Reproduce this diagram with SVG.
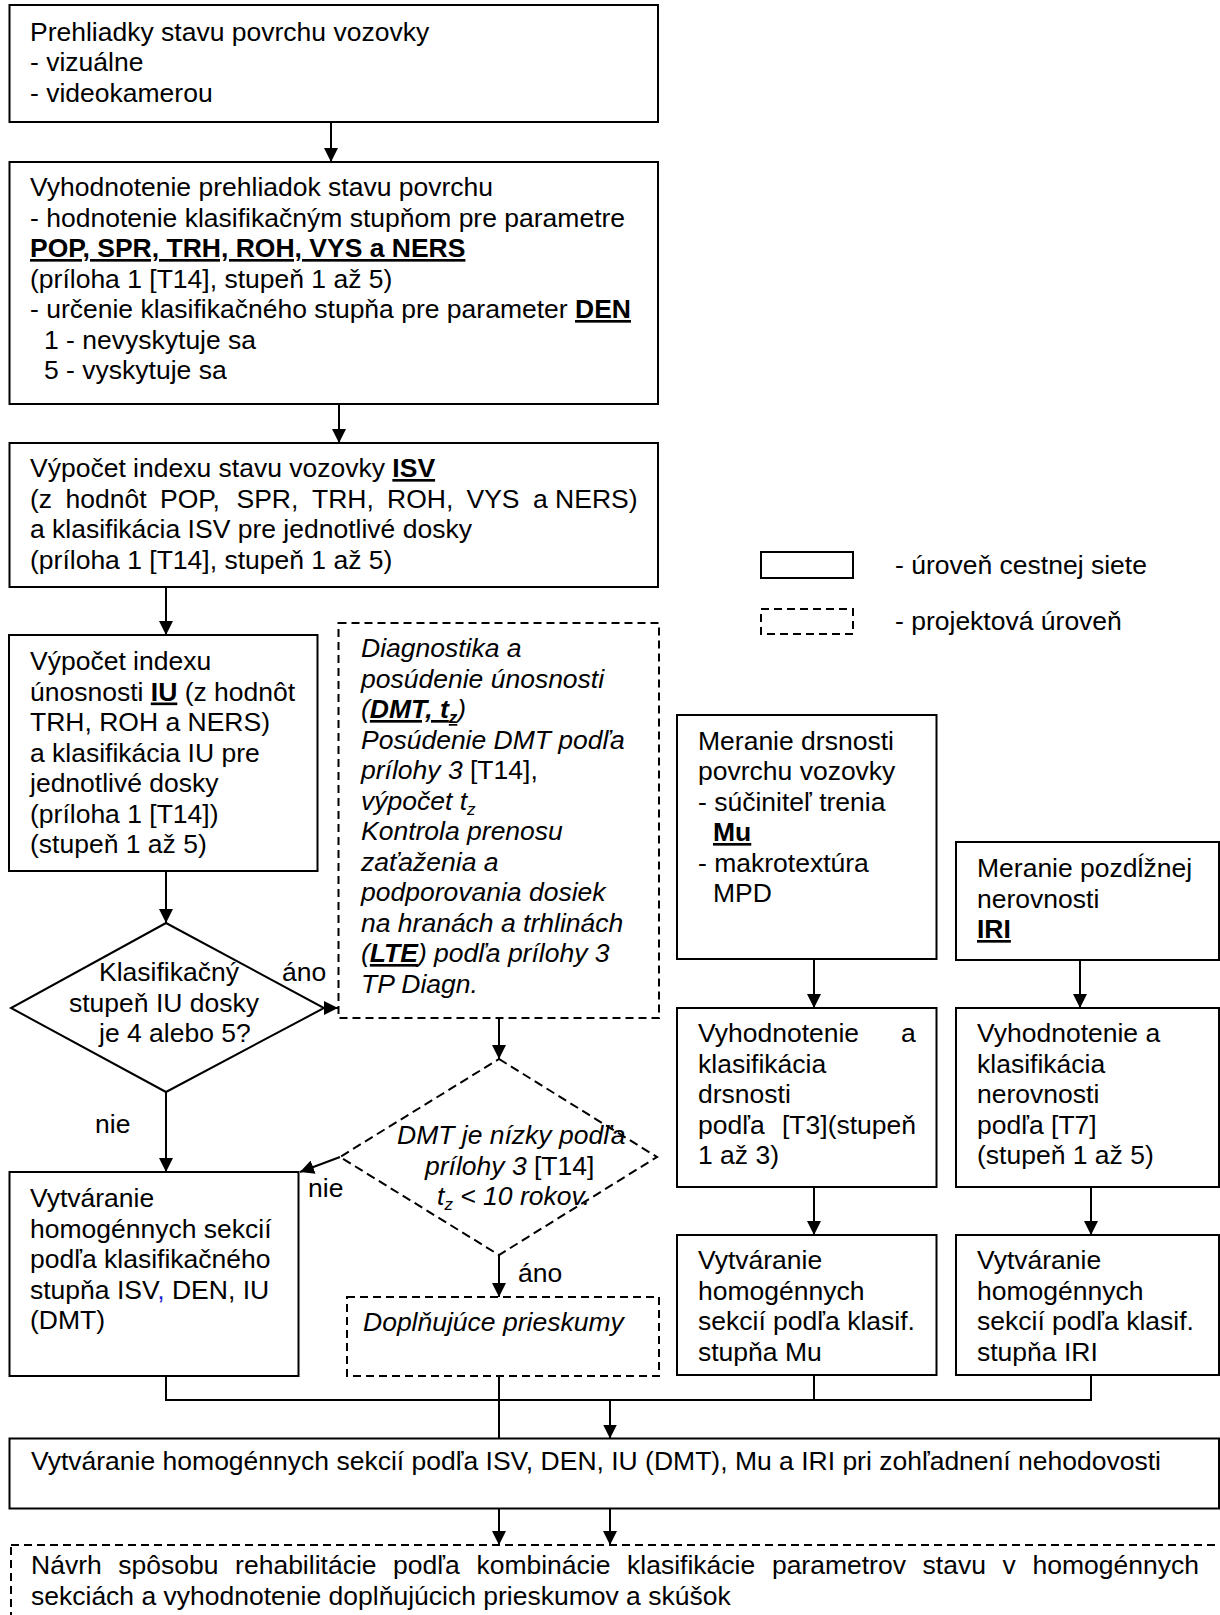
<svg xmlns="http://www.w3.org/2000/svg" width="1220" height="1615" viewBox="0 0 1220 1615">
<style>
text { font-family: "Liberation Sans", Arial, sans-serif; font-size: 26.5px; fill: #000; }
.box { fill: #fff; stroke: #000; stroke-width: 2; }
.dbox { fill: #fff; stroke: #000; stroke-width: 2; stroke-dasharray: 8 5; }
.con { fill: none; stroke: #000; stroke-width: 2; }
.arr { fill: none; stroke: #000; stroke-width: 2; marker-end: url(#ah); }
.it { font-style: italic; }
.bu { font-weight: bold; text-decoration: underline; }
.sub { font-size: 17px; }
</style>
<defs>
<marker id="ah" markerUnits="userSpaceOnUse" markerWidth="14" markerHeight="14" refX="14" refY="7" orient="auto">
<path d="M0,0 L14,7 L0,14 z" fill="#000"/>
</marker>
</defs>
<rect width="1220" height="1615" fill="#fff"/>

<g id="connectors">
<path class="arr" d="M331,122 V162"/>
<path class="arr" d="M339,404 V443"/>
<path class="arr" d="M166,587 V635"/>
<path class="arr" d="M166,871 V923"/>
<path class="arr" d="M323,1008 H338"/>
<path class="arr" d="M166,1092 V1172"/>
<path class="arr" d="M499,1018 V1059"/>
<path class="arr" d="M340,1157 L300,1172"/>
<path class="arr" d="M499,1255 V1297"/>
<path class="arr" d="M814,959 V1008"/>
<path class="arr" d="M1080,960 V1008"/>
<path class="arr" d="M814,1187 V1235"/>
<path class="arr" d="M1091,1187 V1235"/>
<path class="con" d="M166,1376 V1400 H1091 V1375"/>
<path class="con" d="M814,1375 V1400"/>
<path class="con" d="M499,1376 V1438.5"/>
<path class="arr" d="M610,1400 V1438.5"/>
<path class="arr" d="M499,1508.5 V1545"/>
<path class="arr" d="M610,1508.5 V1545"/>
</g>

<g id="n-prehliadky">
<rect class="box" x="9.5" y="5" width="648.5" height="117"/>
<text x="30" y="40.5">Prehliadky stavu povrchu vozovky</text>
<text x="30" y="71">- vizuálne</text>
<text x="30" y="101.5">- videokamerou</text>
</g>

<g id="n-vyhodnotenie">
<rect class="box" x="9.5" y="162" width="648.5" height="242"/>
<text x="30" y="196">Vyhodnotenie prehliadok stavu povrchu</text>
<text x="30" y="226.5">- hodnotenie klasifikačným stupňom pre parametre</text>
<text x="30" y="257"><tspan class="bu">POP, SPR, TRH, ROH, VYS a NERS</tspan></text>
<text x="30" y="287.5">(príloha 1 [T14], stupeň 1 až 5)</text>
<text x="30" y="318">- určenie klasifikačného stupňa pre parameter <tspan class="bu">DEN</tspan></text>
<text x="44" y="348.5">1 - nevyskytuje sa</text>
<text x="44" y="379">5 - vyskytuje sa</text>
</g>

<g id="n-isv">
<rect class="box" x="9.5" y="443" width="648.5" height="144"/>
<text x="30" y="477">Výpočet indexu stavu vozovky <tspan class="bu">ISV</tspan></text>
<text y="507.5"><tspan x="30">(z</tspan><tspan x="65.5">hodnôt</tspan><tspan x="160">POP,</tspan><tspan x="236.5">SPR,</tspan><tspan x="312">TRH,</tspan><tspan x="387">ROH,</tspan><tspan x="466.5">VYS</tspan><tspan x="533">a NERS)</tspan></text>
<text x="30" y="538">a klasifikácia ISV pre jednotlivé dosky</text>
<text x="30" y="568.5">(príloha 1 [T14], stupeň 1 až 5)</text>
</g>

<g id="n-iu">
<rect class="box" x="9" y="635" width="308.5" height="236"/>
<text x="30" y="670">Výpočet indexu</text>
<text x="30" y="700.5">únosnosti <tspan class="bu">IU</tspan> (z hodnôt</text>
<text x="30" y="731">TRH, ROH a NERS)</text>
<text x="30" y="761.5">a klasifikácia IU pre</text>
<text x="30" y="792">jednotlivé dosky</text>
<text x="30" y="822.5">(príloha 1 [T14])</text>
<text x="30" y="853">(stupeň 1 až 5)</text>
</g>

<g id="n-diamond-iu">
<polygon class="box" points="166,923 324,1008 166,1092 11,1008"/>
<text x="99" y="981">Klasifikačný</text>
<text x="69" y="1011.5">stupeň IU dosky</text>
<text x="99" y="1042">je 4 alebo 5?</text>
</g>
<g id="labels">
<text x="282" y="981">áno</text>
<text x="95" y="1133">nie</text>
<text x="308" y="1197">nie</text>
<text x="518" y="1282">áno</text>
</g>

<g id="n-diagnostika">
<rect class="dbox" x="338.5" y="623" width="320.5" height="395"/>
<text class="it" x="361" y="657">Diagnostika a</text>
<text class="it" x="361" y="687.5">posúdenie únosnosti</text>
<text class="it" x="361" y="718">(<tspan class="bu">DMT, t<tspan class="sub" dy="5">z</tspan></tspan><tspan dy="-5">)</tspan></text>
<text class="it" x="361" y="748.5">Posúdenie DMT podľa</text>
<text class="it" x="361" y="779">prílohy 3<tspan font-style="normal"> [T14],</tspan></text>
<text class="it" x="361" y="809.5">výpočet t<tspan class="sub" dy="5">z</tspan></text>
<text class="it" x="361" y="840">Kontrola prenosu</text>
<text class="it" x="361" y="870.5">zaťaženia a</text>
<text class="it" x="361" y="901">podporovania dosiek</text>
<text class="it" x="361" y="931.5">na hranách a trhlinách</text>
<text class="it" x="361" y="962">(<tspan class="bu">LTE</tspan>) podľa prílohy 3</text>
<text class="it" x="361" y="992.5">TP Diagn.</text>
</g>

<g id="n-diamond-dmt">
<polygon class="dbox" points="499,1059 657,1157 499,1255 340,1157" style="stroke-dasharray: 9 5"/>
<text class="it" x="397" y="1144">DMT je nízky podľa</text>
<text class="it" x="425" y="1174.5">prílohy 3<tspan font-style="normal"> [T14]</tspan></text>
<text class="it" x="437" y="1205">t<tspan class="sub" dy="5">z</tspan><tspan dy="-5"> &lt; 10 rokov.</tspan></text>
</g>

<g id="n-homog-left">
<rect class="box" x="9.5" y="1172" width="289" height="204"/>
<text x="30" y="1207">Vytváranie</text>
<text x="30" y="1237.5">homogénnych sekcií</text>
<text x="30" y="1268">podľa klasifikačného</text>
<text x="30" y="1298.5">stupňa ISV<tspan fill="#1f1fd0">,</tspan> DEN, IU</text>
<text x="30" y="1329">(DMT)</text>
</g>

<g id="n-doplnujuce">
<rect class="dbox" x="347" y="1297" width="312" height="79"/>
<text class="it" x="363" y="1330.5">Doplňujúce prieskumy</text>
</g>

<g id="legend">
<rect class="box" x="761" y="552" width="92" height="26"/>
<text x="895" y="574">- úroveň cestnej siete</text>
<rect class="dbox" x="761" y="609" width="92" height="25"/>
<text x="895" y="630">- projektová úroveň</text>
</g>

<g id="n-meranie-mu">
<rect class="box" x="677" y="715" width="259.5" height="244"/>
<text x="698" y="749.5">Meranie drsnosti</text>
<text x="698" y="780">povrchu vozovky</text>
<text x="698" y="810.5">- súčiniteľ trenia</text>
<text x="713" y="841"><tspan class="bu">Mu</tspan></text>
<text x="698" y="871.5">- makrotextúra</text>
<text x="713" y="902">MPD</text>
</g>

<g id="n-meranie-iri">
<rect class="box" x="956" y="842" width="263" height="118"/>
<text x="977" y="877">Meranie pozdĺžnej</text>
<text x="977" y="907.5">nerovnosti</text>
<text x="977" y="938"><tspan class="bu">IRI</tspan></text>
</g>

<g id="n-eval-mu">
<rect class="box" x="677" y="1008" width="259.5" height="179"/>
<text y="1042"><tspan x="698">Vyhodnotenie</tspan><tspan x="901">a</tspan></text>
<text x="698" y="1072.5">klasifikácia</text>
<text x="698" y="1103">drsnosti</text>
<text y="1133.5"><tspan x="698">podľa</tspan><tspan x="782">[T3](stupeň</tspan></text>
<text x="698" y="1164">1 až 3)</text>
</g>

<g id="n-eval-iri">
<rect class="box" x="956" y="1008" width="263" height="179"/>
<text x="977" y="1042">Vyhodnotenie a</text>
<text x="977" y="1072.5">klasifikácia</text>
<text x="977" y="1103">nerovnosti</text>
<text x="977" y="1133.5">podľa [T7]</text>
<text x="977" y="1164">(stupeň 1 až 5)</text>
</g>

<g id="n-homog-mu">
<rect class="box" x="677" y="1235" width="259.5" height="140"/>
<text x="698" y="1269">Vytváranie</text>
<text x="698" y="1299.5">homogénnych</text>
<text x="698" y="1330">sekcií podľa klasif.</text>
<text x="698" y="1360.5">stupňa Mu</text>
</g>

<g id="n-homog-iri">
<rect class="box" x="956" y="1235" width="263" height="140"/>
<text x="977" y="1269">Vytváranie</text>
<text x="977" y="1299.5">homogénnych</text>
<text x="977" y="1330">sekcií podľa klasif.</text>
<text x="977" y="1360.5">stupňa IRI</text>
</g>

<g id="n-homog-all">
<rect class="box" x="9.5" y="1438.5" width="1209.5" height="70"/>
<text x="31" y="1470">Vytváranie homogénnych sekcií podľa ISV, DEN, IU (DMT), Mu a IRI pri zohľadnení nehodovosti</text>
</g>

<g id="n-navrh">
<rect class="dbox" x="11" y="1545" width="1300" height="200"/>
<text y="1574"><tspan x="31">Návrh</tspan><tspan x="118.3">spôsobu</tspan><tspan x="235.1">rehabilitácie</tspan><tspan x="393.1">podľa</tspan><tspan x="476.4">kombinácie</tspan><tspan x="627.1">klasifikácie</tspan><tspan x="771.9">parametrov</tspan><tspan x="922.6">stavu</tspan><tspan x="1002.6">v</tspan><tspan x="1032.5">homogénnych</tspan></text>
<text x="31" y="1604.5">sekciách a vyhodnotenie doplňujúcich prieskumov a skúšok</text>
</g>
</svg>
